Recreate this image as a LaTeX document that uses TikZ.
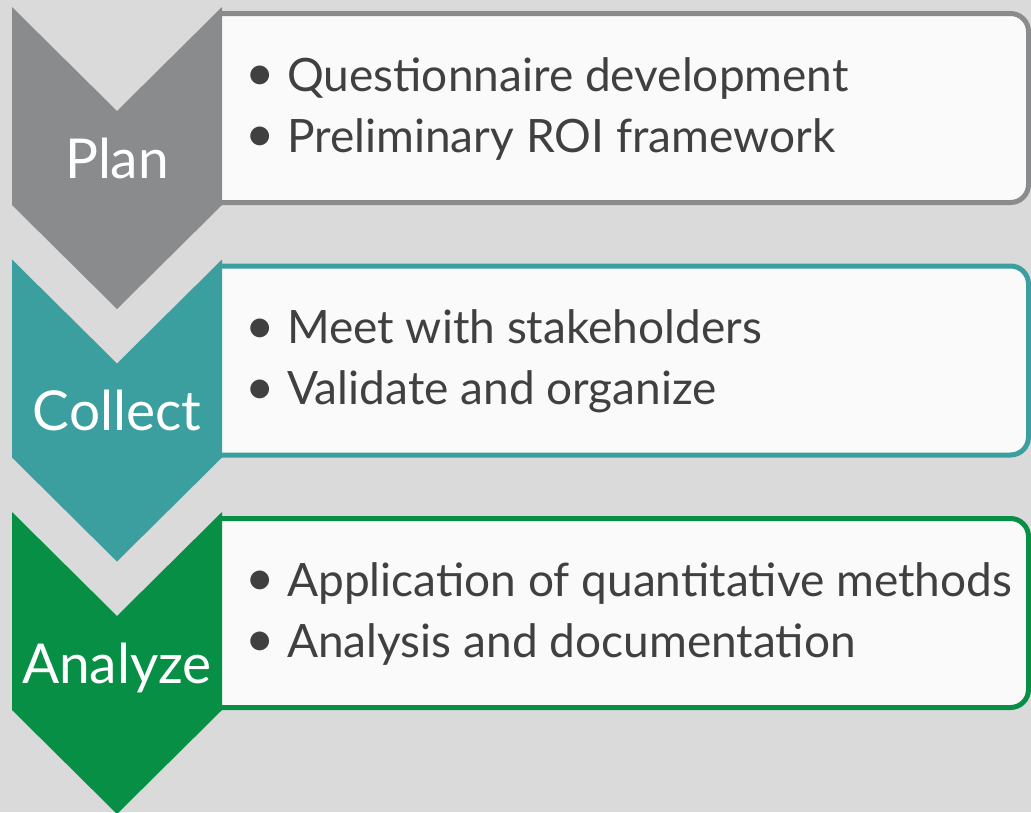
\documentclass[tikz,border=0pt]{standalone}
\usepackage{fontspec}
\setmainfont{Lato}

\definecolor{plangray}{HTML}{8A8B8D}
\definecolor{collectteal}{HTML}{3A9F9E}
\definecolor{analyzegreen}{HTML}{068F45}
\definecolor{backdrop}{HTML}{DADADA}
\definecolor{panelfill}{HTML}{FAFAFA}
\definecolor{bodytext}{HTML}{404040}

\newcommand{\dotmark}{\makebox[41.5pt][l]{\raisebox{0.5pt}{\scalebox{1.1}{\textbullet}}}}

\begin{document}
\begin{tikzpicture}[x=1pt, y=-1pt,
    panel/.style={draw=#1, fill=panelfill, line width=5pt, rounded corners=18pt},
    stage/.style={font=\fontsize{55}{60}\selectfont, text=white, anchor=base, inner sep=0pt},
    item/.style={font=\fontsize{46}{50}\selectfont, text=bodytext, anchor=base west, inner sep=0pt}
]

\useasboundingbox (0,0) rectangle (1031,812);
\fill[backdrop] (0,0) rectangle (1031,812);

% Panels behind the chevrons (open on the left)
\filldraw[panel=plangray] (221,13.5) -- (1028.5,13.5) -- (1028.5,202.5) -- (221,202.5);
\filldraw[panel=collectteal] (221,266) -- (1028.5,266) -- (1028.5,455) -- (221,455);
\filldraw[panel=analyzegreen] (221,518.5) -- (1028.5,518.5) -- (1028.5,707.5) -- (221,707.5);

% Chevrons
\fill[plangray] (12,7) -- (117,111) -- (222,7) -- (222,205) -- (117,309) -- (12,205) -- cycle;
\fill[collectteal] (12,259.5) -- (117,363.5) -- (222,259.5) -- (222,457.5) -- (117,561.5) -- (12,457.5) -- cycle;
\fill[analyzegreen] (12,512) -- (117,616) -- (222,512) -- (222,710) -- (117,814) -- (12,710) -- cycle;

\node[stage] (plan) at (117,178) {Plan};
\node[stage] (collect) at (117,430.5) {Collect};
\node[stage] (analyze) at (117,683) {Analyze};

% Bullet points
\node[item] (p1) at (245.5,91) {\dotmark Questionnaire development};
\node[item] (p2) at (245.5,152) {\dotmark Preliminary ROI framework};

\node[item] (c1) at (245.5,343.5) {\dotmark Meet with stakeholders};
\node[item] (c2) at (245.5,404.5) {\dotmark Validate and organize};

\node[item] (a1) at (245.5,596) {\dotmark Application of quantitative methods};
\node[item] (a2) at (245.5,657) {\dotmark Analysis and documentation};

\end{tikzpicture}
\end{document}
